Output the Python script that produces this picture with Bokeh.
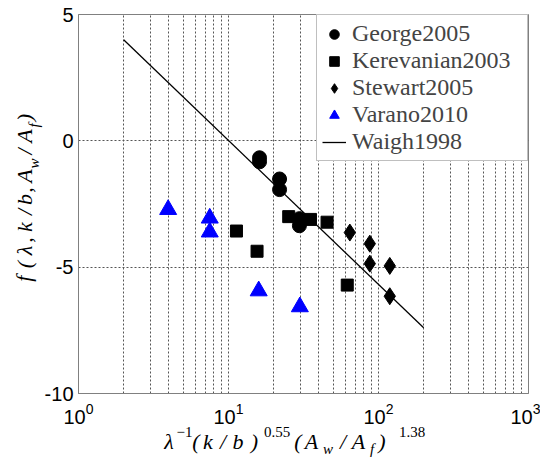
from bokeh.plotting import figure
from bokeh.models import FixedTicker, LinearAxis, Range1d, LinearScale
from bokeh.embed import file_html
from bokeh.resources import INLINE

# ---- data ----
george_x = [16.1, 16.1, 21.9, 21.9, 29.7, 29.7]
george_y = [-0.67, -0.83, -1.51, -1.93, -3.08, -3.36]
kerevanian_x = [11.3, 15.5, 25.2, 35.2, 45.4, 61.9]
kerevanian_y = [-3.57, -4.37, -3.0, -3.11, -3.22, -5.71]
stewart_x = [64.4, 87.5, 87.5, 118.9, 118.9]
stewart_y = [-3.63, -4.07, -4.86, -4.95, -6.15]
varano_x = [3.96, 7.5, 7.5, 15.9, 29.9]
varano_y = [-2.72, -3.06, -3.61, -5.94, -6.57]
waigh_x = [2, 200]
waigh_y = [4.0, -7.4]

x_ticks = [1, 10, 100, 1000]
y_ticks = [-10, -5, 0, 5]
y_grid = [-5, 0]

# canvas size and frame position (used only to place the axis-title pieces)
W, H = 540, 460
FL, FR, FT, FB = 78, 528, 14, 393

p = figure(width=W, height=H, x_axis_type="log", x_range=(1, 1000), y_range=(-10, 5),
           output_backend="svg", toolbar_location=None,
           min_border_left=FL, min_border_right=W - FR, min_border_top=FT,
           min_border_bottom=H - FB)
p.background_fill_color = "white"
p.border_fill_color = "white"
p.outline_line_color = "#808080"

minor = [m * d for d in (1, 10, 100) for m in range(2, 10)]
p.xaxis.ticker = FixedTicker(ticks=x_ticks, minor_ticks=minor)
p.yaxis.ticker = FixedTicker(ticks=y_ticks)
p.yaxis.major_label_overrides = {-10: "-10", -5: "-5"}
p.ygrid.ticker = FixedTicker(ticks=y_grid)

for g in (p.xgrid, p.ygrid):
    g.grid_line_color = "#555555"
    g.grid_line_dash = "2 2"
    g.grid_line_width = 1
p.xgrid.minor_grid_line_color = "#555555"
p.xgrid.minor_grid_line_dash = "2 2"

for ax in (p.xaxis, p.yaxis):
    ax.axis_line_color = "#808080"
    ax.major_tick_line_color = None
    ax.minor_tick_line_color = None
    ax.major_tick_out = 0
    ax.major_tick_in = 0
    ax.major_label_text_font = "Liberation Sans"
    ax.major_label_text_font_size = "20px"
    ax.major_label_text_color = "black"
p.yaxis.major_label_standoff = 5
p.xaxis.major_label_standoff = 5

p.scatter(george_x, george_y, marker="circle", size=14, color="black", legend_label="George2005")
p.scatter(kerevanian_x, kerevanian_y, marker="square", size=12, color="black", legend_label="Kerevanian2003")
p.scatter(stewart_x, stewart_y, marker="diamond", size=17, color="black", legend_label="Stewart2005")
p.scatter(varano_x, varano_y, marker="triangle", size=17, color="blue", legend_label="Varano2010")
p.line(waigh_x, waigh_y, color="black", line_width=1.3, legend_label="Waigh1998")

lg = p.legend[0]
lg.location = "top_right"
lg.margin = 0
lg.border_line_color = "#808080"
lg.border_line_width = 1
lg.background_fill_alpha = 1
lg.label_text_font = "Liberation Serif"
lg.label_text_font_size = "24px"
lg.label_width = 170
lg.label_height = 24
lg.glyph_height = 24
lg.glyph_width = 24
lg.spacing = 0
lg.padding = 5
lg.label_standoff = 6

# ---- axis titles: math pieces drawn as tick labels of stacked helper axes ----
p.extra_x_ranges = {"px": Range1d(FL, FR)}
p.extra_x_scales = {"px": LinearScale()}
p.extra_y_ranges = {"py": Range1d(FB, FT)}
p.extra_y_scales = {"py": LinearScale()}


def title_axis(side, pieces, size, italic, standoff):
    if side == "below":
        ax = LinearAxis(x_range_name="px")
    else:
        ax = LinearAxis(y_range_name="py", major_label_orientation="vertical")
    ax.ticker = FixedTicker(ticks=[c for c, _ in pieces])
    ax.major_label_overrides = {c: t for c, t in pieces}
    ax.axis_line_color = None
    ax.major_tick_line_color = None
    ax.minor_tick_line_color = None
    ax.major_tick_out = 0
    ax.major_tick_in = 0
    ax.major_label_standoff = standoff
    ax.major_label_text_font = "Liberation Serif"
    ax.major_label_text_font_size = f"{size}px"
    ax.major_label_text_font_style = "italic" if italic else "normal"
    ax.major_label_text_color = "black"
    p.add_layout(ax, side)


MAIN, SMALL = 22, 15
# x title: λ^{-1}(k/b)^{0.55}(A_w/A_f)^{1.38}
title_axis("below", [(184.0, "−1"), (276.5, "0.55"), (411.5, "1.38")], SMALL, False, 0)
title_axis("below", [(168.5, "λ"), (195.5, "("), (207.5, "k"), (222.5, "/"), (237.5, "b"), (254.0, ")"),
                     (297.5, "("), (311.0, "A"), (342.5, "/"), (358.0, "A"), (381.5, ")")], MAIN, True, -11)
title_axis("below", [(327.5, "w"), (371.5, "f")], SMALL, True, -16)

# y title: f(λ, k/b, A_w/A_f)
title_axis("left", [(163.0, "w"), (125.0, "f")], SMALL, True, 0)
title_axis("left", [(278.3, "f"), (264.0, "("), (250.0, "λ"), (239.5, ","), (226.5, "k"), (211.5, "/"),
                    (199.0, "b"), (189.5, ","), (175.5, "A"), (151.0, "/"), (135.5, "A"), (117.0, ")")],
           MAIN, True, -14)

open("out.html", "w").write(file_html(p, INLINE))
